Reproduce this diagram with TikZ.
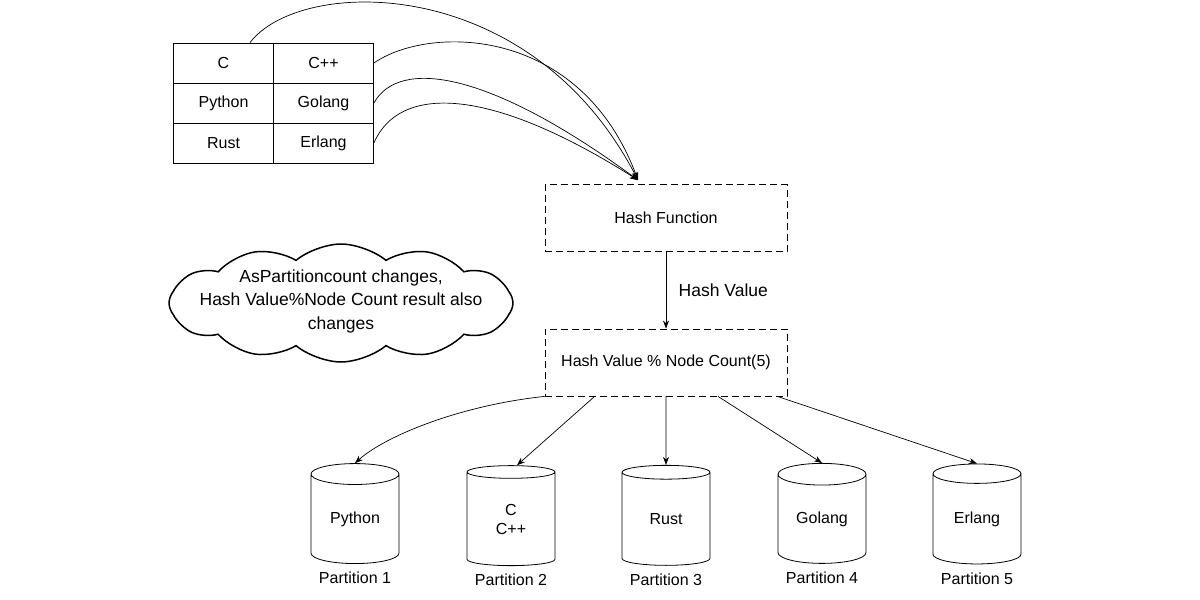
\documentclass[tikz,border=0pt]{standalone}
\usepackage{fontspec}
\setmainfont{Liberation Sans}
\usetikzlibrary{arrows.meta, positioning, calc, shapes.geometric, shapes.symbols}

\newcommand{\txt}{\fontsize{16}{19}\selectfont}
\newcommand{\bigtxt}{\fontsize{17.5}{23.5}\selectfont}

\tikzset{
  cell/.style={draw, line width=0.8pt, minimum width=100pt, minimum height=40pt, inner sep=0pt, font=\txt},
  hashbox/.style={draw, dash pattern=on 7pt off 4pt, line width=0.8pt, minimum width=242pt, minimum height=67pt, inner sep=0pt, font=\txt},
  partdb/.style={cylinder, shape border rotate=90, draw, line width=0.8pt, minimum width=88pt, minimum height=100pt, aspect=0.42, align=center, inner sep=0pt, font=\txt},
  partlabel/.style={inner sep=1pt, font=\txt},
  link/.style={-{Stealth[length=8pt,width=6pt]}, line width=0.7pt},
}

\begin{document}
\begin{tikzpicture}[x=1pt,y=-1pt]
    \useasboundingbox[fill=white] (0,0) rectangle (1200,600);

    % language table
    \node[cell] (c)    at (223.5,63)  {C};
    \node[cell] (cpp)  at (323.5,63)  {C++};
    \node[cell] (py)   at (223.5,103) {Python};
    \node[cell] (go)   at (323.5,103) {Golang};
    \node[cell] (rust) at (223.5,143) {Rust};
    \node[cell] (erl)  at (323.5,143) {Erlang};

    % hashing
    \node[hashbox] (hash) at (666,218)   {Hash Function};
    \node[hashbox] (mod)  at (666,362.5) {Hash Value \% Node Count(5)};
    \coordinate (hashin) at ($(hash.north)+(-28,-4)$);

    % note cloud
    \node[cloud, cloud puffs=12, cloud puff arc=80, cloud ignores aspect, draw, line width=1.5pt, inner sep=0pt, minimum width=344pt, minimum height=118pt]
      (cloud) at (341,303) {};
    \node[align=center, font=\bigtxt] (note) at (341,301) {AsPartitioncount changes,\\Hash Value\%Node Count result also\\changes};

    % partitions
    \node[partdb] (p1) at (355,519) {Python};
    \node[partdb] (p2) at (511,519) {C\\C++};
    \node[partdb] (p3) at (666,519) {Rust};
    \node[partdb] (p4) at (822,519) {Golang};
    \node[partdb] (p5) at (977,519) {Erlang};
    \foreach \i in {1,...,5}
      \node[partlabel, below=7pt of p\i] (l\i) {Partition \i};

    % table -> hash function
    \draw[link] ($(c.north)+(26.5,0)$) .. controls +(50,-66) and +(-108,-208) .. (hashin);
    \draw[link] (cpp.east) .. controls +(55,-38) and +(-58,-155) .. (hashin);
    \draw[link] (go.east) .. controls +(25,-45) and +(-150,-110) .. (hashin);
    \draw[link] (erl.east) .. controls +(25,-58) and +(-150,-95) .. (hashin);

    \draw[link] (hash.south) -- node[right=9pt, font=\bigtxt] (hv) {Hash Value} (mod.north);

    % mod -> partitions
    \draw[link] (mod.south west) .. controls +(-85,9) and +(30,-27) .. (p1.north);
    \draw[link] ($(mod.south west)+(50,0)$) -- ($(p2.north)+(6,0)$);
    \draw[link] (mod.south) -- (p3.north);
    \draw[link] ($(mod.south)+(52,0)$) -- (p4.north);
    \draw[link] ($(mod.south east)+(-10,0)$) -- (p5.north);
  \end{tikzpicture}
\end{document}
